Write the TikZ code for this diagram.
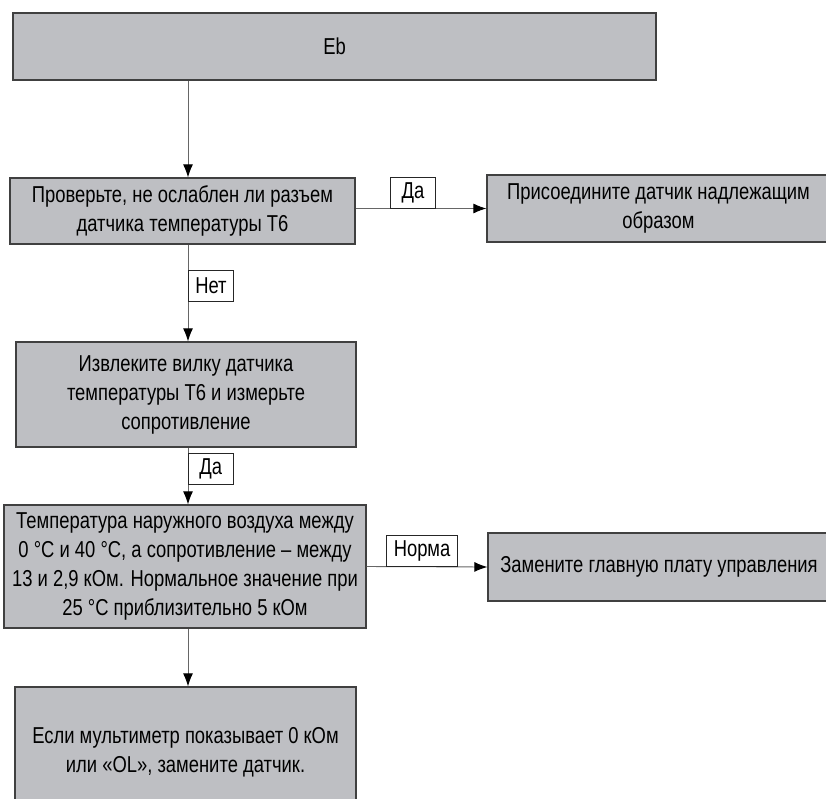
\documentclass[tikz,border=0pt]{standalone}
\usepackage{fontspec}
\setmainfont{Liberation Sans}[FakeStretch=0.8]
\usetikzlibrary{arrows.meta,positioning}
\definecolor{blockgray}{RGB}{190,191,195}

\begin{document}
\begin{tikzpicture}[
        x=1pt, y=-1pt,
        every node/.style={font=\fontsize{23}{29}\selectfont, text=black},
        block/.style={draw=black!75, line width=1.3pt, fill=blockgray,
            align=center, inner sep=0pt},
        tag/.style={draw=black!85, line width=0.6pt, fill=white,
            minimum width=45pt, minimum height=31pt, inner xsep=7pt, inner ysep=0pt},
        link/.style={draw=black!60, line width=0.9pt,
            -{Latex[length=13pt, width=10pt, color=black]}}
    ]
    \useasboundingbox (0,0) rectangle (826,798);
    \clip (0,0) rectangle (826,798);
    \coordinate (spine) at (188,0);

    % main column
    \node[block, minimum width=643pt, minimum height=67pt] (eb) at (334.5,46.5) {Eb};
    \node[block, minimum width=345pt, minimum height=66pt] (check) at (182.5,211)
        {Проверьте, не ослаблен ли разъем\\датчика температуры Т6};
    \node[block, minimum width=340pt, minimum height=105pt] (unplug) at (186,394.5)
        {Извлеките вилку датчика\\температуры Т6 и измерьте\\сопротивление};
    \node[block, minimum width=362pt, minimum height=123pt] (temp) at (185,566.5)
        {Температура наружного воздуха между\\0 °C и 40 °C, а сопротивление -- между\\13 и 2,9 кОм. Нормальное значение при\\25 °C приблизительно 5 кОм};
    \node[block, minimum width=341pt, minimum height=130pt] (replace) at (185.5,752)
        {Если мультиметр показывает 0 кОм\\или «OL», замените датчик.};

    % right column
    \node[block, minimum width=343pt, minimum height=67pt] (fix) at (658.5,208.5)
        {Присоедините датчик надлежащим\\образом};
    \node[block, minimum width=342pt, minimum height=68pt] (board) at (659,567)
        {Замените главную плату управления};

    % connectors
    \draw[link] (eb.south -| spine) -- (check.north -| spine);
    \draw[link] (check.south -| spine) -- node[tag, pos=0.265, anchor=north west] {Нет} (unplug.north -| spine);
    \draw[link] (unplug.south -| spine) -- node[tag, pos=0.1, anchor=north west] {Да} (temp.north -| spine);
    \draw[link] (temp.south -| spine) -- (replace.north -| spine);
    \draw[link] (check.east |- fix.west) -- node[tag, pos=0.265, anchor=south west] {Да} (fix.west);
    \draw[link] (temp.east) -- node[tag, pos=0.164, anchor=south west] {Норма} (board.west);
\end{tikzpicture}
\end{document}
